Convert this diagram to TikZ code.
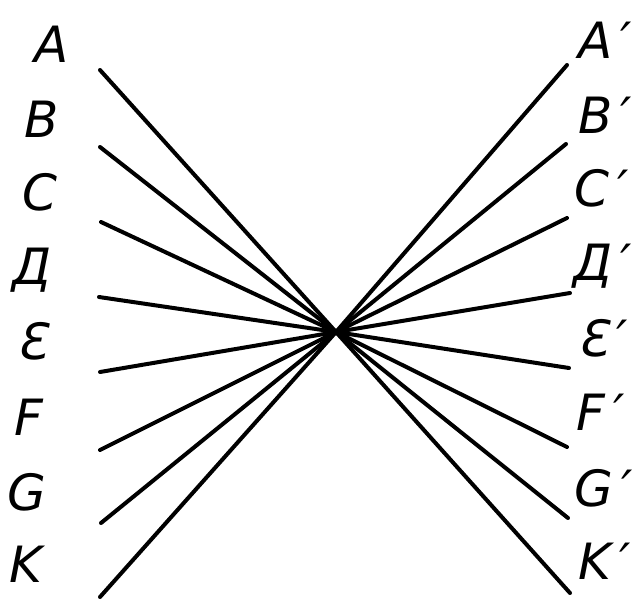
\documentclass[tikz,border=0pt]{standalone}
\usepackage{fontspec}
\setmainfont{DejaVu Sans}
\begin{document}
\begin{tikzpicture}[x=1pt,y=-1pt,
  ray/.style={line width=4pt,line cap=round},
  lbl/.style={font=\fontsize{50}{50}\selectfont\itshape,inner sep=0pt}]
\useasboundingbox (0,0) rectangle (636,605);
\coordinate (O) at (336,332);
% left ends
\coordinate (a) at (100,70);
\coordinate (b) at (100,147);
\coordinate (c) at (101,222);
\coordinate (d) at (99,297);
\coordinate (e) at (100,372);
\coordinate (f) at (100,450);
\coordinate (g) at (101,523);
\coordinate (k) at (100,597);
% right ends
\coordinate (a2) at (567,65);
\coordinate (b2) at (566,144);
\coordinate (c2) at (567,218);
\coordinate (d2) at (570,293);
\coordinate (e2) at (569,368);
\coordinate (f2) at (567,447);
\coordinate (g2) at (568,518);
\coordinate (k2) at (570,593);
\foreach \p in {a,b,c,d,e,f,g,k,a2,b2,c2,d2,e2,f2,g2,k2}
  \draw[ray] (\p) -- (O);
% left labels
\node[lbl] (la) at (52,44) {A};
\node[lbl] (lb) at (42,119) {B};
\node[lbl] (lc) at (40,192) {C};
\node[lbl] (ld) at (32,270) {Д};
\node[lbl] (le) at (32,341) {Ɛ};
\node[lbl] (lf) at (29,417) {F};
\node[lbl] (lg) at (27,492) {G};
\node[lbl] (lk) at (26,564) {K};
% right labels
\node[lbl] (ra) at (605,40) {A\,′};
\node[lbl] (rb) at (605,115) {B\,′};
\node[lbl] (rc) at (602,188) {C\,′};
\node[lbl] (rd) at (603,266) {Д\,′};
\node[lbl] (re) at (603,338) {Ɛ\,′};
\node[lbl] (rf) at (601,412) {F\,′};
\node[lbl] (rg) at (604,488) {G\,′};
\node[lbl] (rk) at (605,561) {K\,′};
\end{tikzpicture}
\end{document}
